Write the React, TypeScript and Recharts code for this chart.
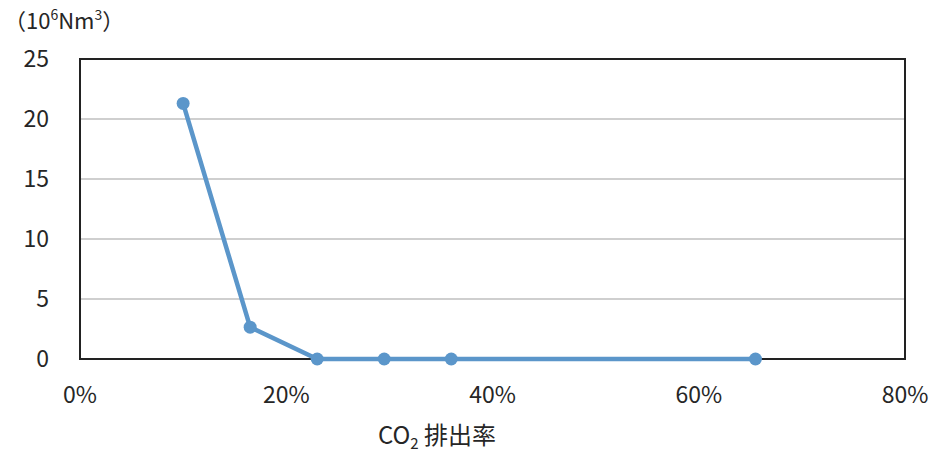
import {
  LineChart,
  Line,
  XAxis,
  YAxis,
  CartesianGrid,
  ReferenceArea,
} from "recharts";

const co2Rate = [10, 16.5, 23, 29.5, 36, 65.5];
const volume = [21.3, 2.65, 0, 0, 0, 0];
const xTicks = [0, 20, 40, 60, 80];
const yTicks = [0, 5, 10, 15, 20, 25];

const data = co2Rate.map((rate, i) => ({ rate, volume: volume[i] }));

const font = '"Noto Sans CJK JP", "Noto Sans", sans-serif';
const textColor = "#262626";
const lineColor = "#5B96CA";

export default function App() {
  return (
    <div
      style={{
        position: "absolute",
        left: 0,
        top: 0,
        width: 931,
        height: 455,
        background: "#fff",
        fontFamily: font,
        color: textColor,
      }}
    >
      <LineChart
        width={931}
        height={455}
        data={data}
        margin={{ top: 59, right: 26, bottom: 0, left: 0 }}
      >
        <CartesianGrid vertical={false} stroke="#BFBFBF" strokeWidth={1.3} />
        <XAxis
          type="number"
          dataKey="rate"
          domain={[0, 80]}
          ticks={xTicks}
          tickFormatter={(v) => `${v}%`}
          height={96}
          tickSize={0}
          tickMargin={28}
          axisLine={false}
          tick={{ fill: textColor, fontSize: 23, fontFamily: font }}
        />
        <YAxis
          domain={[0, 25]}
          ticks={yTicks}
          width={80}
          tickSize={0}
          tickMargin={31}
          axisLine={false}
          tick={{ fill: textColor, fontSize: 23, fontFamily: font }}
        />
        <ReferenceArea
          x1={0}
          x2={80}
          y1={0}
          y2={25}
          fill="none"
          stroke="#222"
          strokeWidth={2}
          ifOverflow="visible"
        />
        <Line
          type="linear"
          dataKey="volume"
          stroke={lineColor}
          strokeWidth={4.5}
          dot={{ r: 6.5, fill: lineColor, stroke: lineColor, strokeWidth: 0 }}
          isAnimationActive={false}
        />
      </LineChart>
      <div
        style={{
          position: "absolute",
          left: 4,
          top: 5,
          fontSize: 22,
          lineHeight: "28px",
          whiteSpace: "nowrap",
        }}
      >
        （10<sup style={{ fontSize: 14, verticalAlign: 9, lineHeight: 1 }}>6</sup>Nm
        <sup style={{ fontSize: 14, verticalAlign: 9, lineHeight: 1 }}>3</sup>）
      </div>
      <div
        style={{
          position: "absolute",
          left: 378,
          top: 421,
          fontSize: 24,
          lineHeight: "26px",
          whiteSpace: "nowrap",
        }}
      >
        CO<sub style={{ fontSize: 15, verticalAlign: -5, lineHeight: 1 }}>2</sub> 排出率
      </div>
    </div>
  );
}
